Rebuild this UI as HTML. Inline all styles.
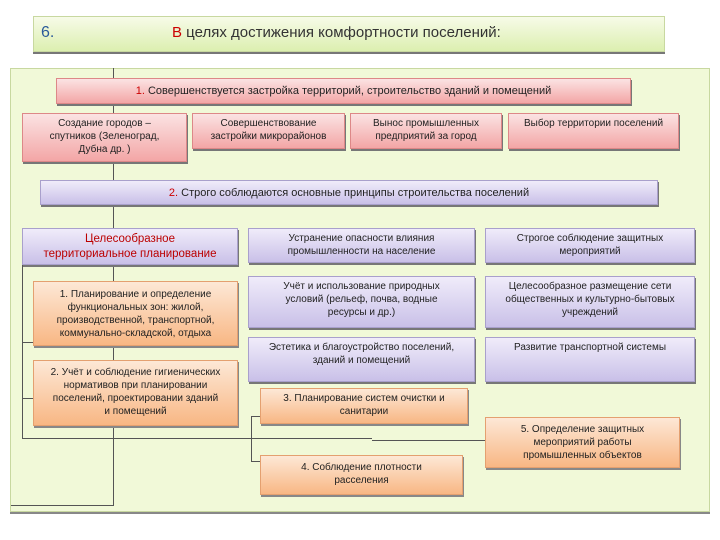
<!DOCTYPE html>
<html><head><meta charset="utf-8"><style>
body{margin:0;width:720px;height:540px;background:#fff;position:relative;overflow:hidden;font-family:"Liberation Sans","DejaVu Sans",sans-serif;}
.b{position:absolute;box-sizing:border-box;text-align:center;font-size:10px;line-height:13px;color:#222;padding-top:3px;}
.pk{background:linear-gradient(#fbe3e3,#f3a6a6);border:1px solid #d88;box-shadow:1px 2px 0 #777;}
.lv{background:linear-gradient(#f0ecfa,#c9c0e8);border:1px solid #a9a0cc;box-shadow:1px 2px 0 #777;}
.or{background:linear-gradient(#fde8d6,#f8b784);border:1px solid #e4a070;box-shadow:1px 2px 0 #888;}
.l{position:absolute;background:#555;}
</style></head><body>
<div style="position:absolute;left:33px;top:16px;width:632px;height:36px;background:linear-gradient(#f7fbe8,#dcefb0);border:1px solid #c8d8a0;box-shadow:0 2px 0 #777;box-sizing:border-box;"></div>
<div style="position:absolute;left:41px;top:24px;font-size:16px;color:#2a5a9a;">6.</div>
<div style="position:absolute;left:172px;top:24px;font-size:15px;color:#333;"><span style="color:#c00">В</span> целях достижения комфортности поселений:</div>
<div style="position:absolute;left:10px;top:68px;width:700px;height:444px;background:#f1f9d8;border:1px solid #c8d8a0;box-shadow:0 2px 0 #888;box-sizing:border-box;"></div>
<div class="l" style="left:113px;top:68px;width:1px;height:437px"></div>
<div class="l" style="left:11px;top:505px;width:103px;height:1px"></div>
<div class="l" style="left:22px;top:262px;width:1px;height:176px"></div>
<div class="l" style="left:22px;top:342px;width:12px;height:1px"></div>
<div class="l" style="left:22px;top:398px;width:12px;height:1px"></div>
<div class="l" style="left:22px;top:438px;width:350px;height:1px"></div>
<div class="l" style="left:372px;top:440px;width:114px;height:1px"></div>
<div class="l" style="left:251px;top:416px;width:1px;height:45px"></div>
<div class="l" style="left:251px;top:416px;width:10px;height:1px"></div>
<div class="l" style="left:251px;top:461px;width:10px;height:1px"></div>

<div class="b pk" style="left:56px;top:78px;width:575px;height:26px;font-size:11px;padding-top:6px"><span style="color:#c00">1.</span> Совершенствуется застройка территорий, строительство зданий и помещений</div>
<div class="b pk" style="left:22px;top:113px;width:165px;height:49px">Создание городов –<br>спутников (Зеленоград,<br>Дубна др. )</div>
<div class="b pk" style="left:192px;top:113px;width:153px;height:36px">Совершенствование<br>застройки микрорайонов</div>
<div class="b pk" style="left:350px;top:113px;width:152px;height:36px">Вынос промышленных<br>предприятий за город</div>
<div class="b pk" style="left:508px;top:113px;width:171px;height:36px">Выбор территории поселений</div>
<div class="b lv" style="left:40px;top:180px;width:618px;height:25px;font-size:11px;padding-top:6px"><span style="color:#c00">2.</span> Строго соблюдаются основные принципы строительства поселений</div>
<div class="b lv" style="left:22px;top:228px;width:216px;height:37px;font-size:11.5px;line-height:15px;color:#b00;padding-top:3px">Целесообразное<br>территориальное планирование</div>
<div class="b or" style="left:33px;top:281px;width:205px;height:65px;padding-top:6px">1. Планирование и определение<br>функциональных зон: жилой,<br>производственной, транспортной,<br>коммунально-складской, отдыха</div>
<div class="b or" style="left:33px;top:360px;width:205px;height:66px;padding-top:5px">2. Учёт и соблюдение гигиенических<br>нормативов при планировании<br>поселений, проектировании зданий<br>и помещений</div>
<div class="b lv" style="left:248px;top:228px;width:227px;height:35px">Устранение опасности влияния<br>промышленности на население</div>
<div class="b lv" style="left:248px;top:276px;width:227px;height:52px">Учёт и использование природных<br>условий (рельеф, почва, водные<br>ресурсы и др.)</div>
<div class="b lv" style="left:248px;top:337px;width:227px;height:45px">Эстетика и благоустройство поселений,<br>зданий и помещений</div>
<div class="b lv" style="left:485px;top:228px;width:210px;height:35px">Строгое соблюдение защитных<br>мероприятий</div>
<div class="b lv" style="left:485px;top:276px;width:210px;height:52px">Целесообразное размещение сети<br>общественных и культурно-бытовых<br>учреждений</div>
<div class="b lv" style="left:485px;top:337px;width:210px;height:45px">Развитие транспортной системы</div>
<div class="b or" style="left:260px;top:388px;width:208px;height:36px">3. Планирование систем очистки и<br>санитарии</div>
<div class="b or" style="left:260px;top:455px;width:203px;height:40px;padding-top:5px">4. Соблюдение плотности<br>расселения</div>
<div class="b or" style="left:485px;top:417px;width:195px;height:51px;padding-top:5px">5. Определение защитных<br>мероприятий работы<br>промышленных объектов</div>
</body></html>
